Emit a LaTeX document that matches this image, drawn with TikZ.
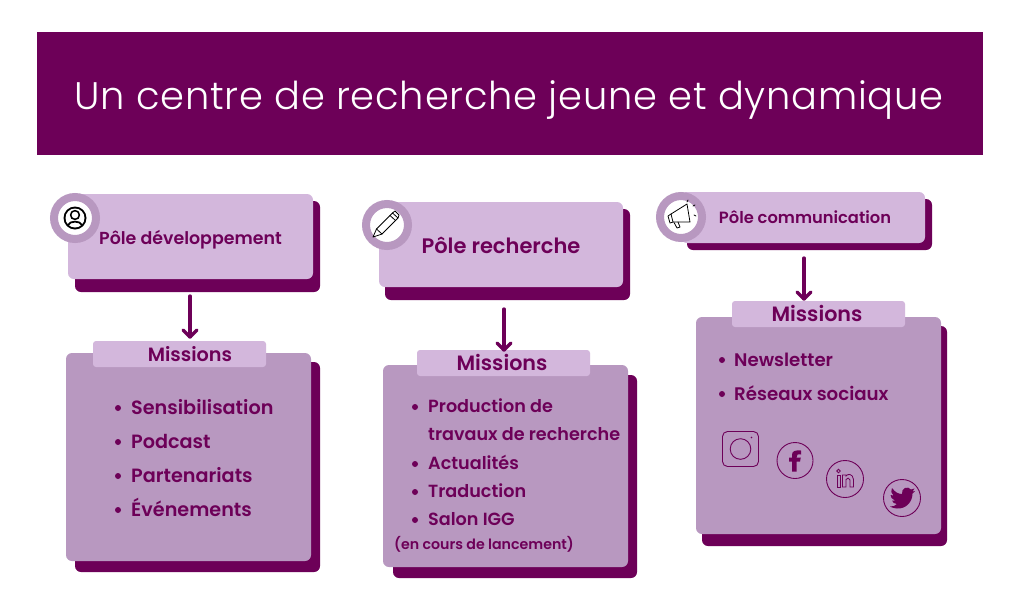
\documentclass[tikz,border=0pt]{standalone}
\usepackage{fontspec}
\setmainfont{Poppins SemiBold}
\newfontfamily\titlefont{Poppins Light}[LetterSpace=2]
\definecolor{plum}{HTML}{6D0058}
\definecolor{lilac}{HTML}{D3B7DC}
\definecolor{mauve}{HTML}{B898C0}
\tikzset{
  x=1pt,y=-1pt,
  shadowbox/.style={fill=plum,rounded corners=6pt},
  lightbox/.style={fill=lilac,rounded corners=6pt},
  midbox/.style={fill=mauve,rounded corners=6pt},
  tabbox/.style={fill=lilac,rounded corners=3pt},
  badge/.style={circle,fill=white,draw=mauve,line width=8pt,minimum size=42pt,inner sep=0pt},
  headlabel/.style={text=plum,inner sep=0pt},
  itemlabel/.style={text=plum,font=\fontsize{17.6}{22}\selectfont,anchor=base west,inner sep=0pt},
  itemone/.style={itemlabel,font=\fontsize{19.2}{22}\selectfont},
  itemthree/.style={itemlabel,font=\fontsize{18.2}{22}\selectfont},
  flow/.style={draw=plum,line width=3.3pt,line cap=round},
  flowhead/.style={draw=plum,line width=3.3pt,line cap=round,line join=round},
  icon/.style={draw=black,line width=.8pt,line cap=round,line join=round},
  social/.style={draw=plum,line width=.9pt},
}
\newcommand{\boxat}[5]{\path[#1] (#2,#3) rectangle (#4,#5);}
\newcommand{\itembullet}[2]{\fill[plum] (#1,#2) circle (3pt);}
\begin{document}
\begin{tikzpicture}
\useasboundingbox (0,0) rectangle (1020,600);
\fill[white] (0,0) rectangle (1020,600);
\node[fill=plum,minimum width=946pt,minimum height=123pt,inner sep=0pt,anchor=north west] (title) at (37,32) {};
\node[text=white,font=\titlefont\fontsize{38.4}{44}\selectfont,inner sep=0pt] (titletext) at (509,100) {Un centre de recherche jeune et dynamique};

% Column 1
\boxat{shadowbox}{75}{201}{320}{292}
\boxat{lightbox}{68}{194}{313}{279}
\node[badge] (b1) at (75,218) {};
\node[headlabel,font=\fontsize{17.4}{22}\selectfont] (h1) at (190.5,240) {Pôle développement};
\boxat{shadowbox}{75}{362}{320}{572}
\boxat{midbox}{66}{353}{311}{561}
\node[tabbox,minimum width=173pt,minimum height=26pt,inner sep=0pt] (t1) at (179.5,354) {};
\node[headlabel,font=\fontsize{19.2}{24}\selectfont] (m1) at (190,354) {Missions};
\coordinate (a1s) at (190,296);
\coordinate (a1e) at (190,337);
\draw[flow] (a1s) -- (a1e);
\draw[flowhead] ([shift={(-7,-7)}]a1e) -- (a1e) -- ([shift={(7,-7)}]a1e);
\itembullet{118}{408}\node[itemone] (i11) at (131,414) {Sensibilisation};
\itembullet{118}{442}\node[itemone] (i12) at (131,448) {Podcast};
\itembullet{118}{476}\node[itemone] (i13) at (131,482) {Partenariats};
\itembullet{118}{510}\node[itemone] (i14) at (131,516) {Événements};

% Column 2
\boxat{shadowbox}{385}{209}{630}{300}
\boxat{lightbox}{379}{202}{623}{287}
\node[badge] (b2) at (387,225) {};
\node[headlabel,font=\fontsize{21}{26}\selectfont] (h2) at (501,245) {Pôle recherche};
\boxat{shadowbox}{393}{375}{637}{578}
\boxat{midbox}{383}{365}{628}{567}
\node[tabbox,minimum width=173pt,minimum height=26pt,inner sep=0pt] (t2) at (503.5,363) {};
\node[headlabel,font=\fontsize{20.7}{24}\selectfont] (m2) at (502,362) {Missions};
\coordinate (a2s) at (504,309);
\coordinate (a2e) at (504,350);
\draw[flow] (a2s) -- (a2e);
\draw[flowhead] ([shift={(-7,-7)}]a2e) -- (a2e) -- ([shift={(7,-7)}]a2e);
\itembullet{415}{407}\node[itemlabel] (i21) at (428,412.5) {Production de};
\node[itemlabel] (i22) at (428,440.5) {travaux de recherche};
\itembullet{415}{464}\node[itemlabel] (i23) at (428,469.5) {Actualités};
\itembullet{415}{492}\node[itemlabel] (i24) at (428,497.5) {Traduction};
\itembullet{415}{520}\node[itemlabel] (i25) at (428,525.5) {Salon IGG};
\node[text=plum,font=\fontsize{14.2}{17}\selectfont,inner sep=0pt] (i26) at (484,544) {(en cours de lancement)};

% Column 3
\boxat{shadowbox}{687}{199}{932}{250}
\boxat{lightbox}{681}{192}{925}{243}
\node[badge] (b3) at (681,217) {};
\node[headlabel,font=\fontsize{16.3}{21}\selectfont] (h3) at (805,217) {Pôle communication};
\boxat{shadowbox}{702}{326}{947}{546}
\boxat{midbox}{696}{317}{941}{534}
\node[tabbox,minimum width=173pt,minimum height=26pt,inner sep=0pt] (t3) at (818.5,314) {};
\node[headlabel,font=\fontsize{20.7}{24}\selectfont] (m3) at (817,313.5) {Missions};
\coordinate (a3s) at (804,258);
\coordinate (a3e) at (804,299);
\draw[flow] (a3s) -- (a3e);
\draw[flowhead] ([shift={(-7,-7)}]a3e) -- (a3e) -- ([shift={(7,-7)}]a3e);
\itembullet{722}{360}\node[itemthree] (i31) at (734,366) {Newsletter};
\itembullet{722}{394}\node[itemthree] (i32) at (734,400) {Réseaux sociaux};

% Badge icons
\begin{scope}[shift={(75,218)}]
  \fill[black] (0,0) circle (11.5pt);
  \fill[white] (0,0) circle (9.5pt);
  \fill[black] (0,-3) circle (5.2pt);
  \fill[white] (0,-3) circle (3.4pt);
  \draw[line width=1.8pt] (-7,7) .. controls (-5,2.5) and (5,2.5) .. (7,7);
\end{scope}
\begin{scope}[shift={(387,225)}]
  \draw[icon] (-14,12) -- (-10.5,4) -- (5.5,-12) -- (11,-7) -- (-5,9) -- cycle;
  \draw[icon] (-10.5,4) -- (-5,9);
  \draw[icon] (3,-9.5) -- (8.5,-4.5);
  \draw[icon] (5.5,-12) -- (8,-14) -- (12,-10) -- (11,-7);
\end{scope}
\begin{scope}[shift={(681,217)}]
  \draw[icon] (-10,-3) -- (6,-13) -- (9,5) -- (-8,5) -- cycle;
  \draw[icon] (-10,-3) -- (-13,-1) -- (-11,6) -- (-8,5);
  \draw[icon] (-7,5.5) -- (-4,11) -- (-1,10) -- (-3,5);
  \draw[icon] (7,-17) -- (6,-15);
  \draw[icon] (12,-11) -- (14,-12);
  \draw[icon] (13,-2) -- (15,-1);
\end{scope}

% Social icons
\draw[social,rounded corners=5pt] (722.5,431.5) rectangle (758.5,466.5);
\draw[social] (740.5,449) circle (10.3pt);
\fill[plum] (751.5,437.5) circle (.8pt);
\draw[social] (795,460.5) circle (18pt);
\fill[plum] (792,471.5) -- (792,461.5) -- (789,461.5) -- (789,457.5) -- (792,457.5) -- (792,455)
  .. controls (792,451) and (795,450) .. (801,450.5) -- (801,454.5)
  .. controls (797.5,454) and (796.5,454.5) .. (796.5,457.5) -- (800.8,457.5) -- (800,461.5) -- (796.5,461.5) -- (796.5,471.5) -- cycle;
\draw[social] (845,479) circle (18.5pt);
\draw[plum,line width=.8pt] (837,475) rectangle (840,487);
\draw[plum,line width=.8pt] (838.5,471) circle (1.8pt);
\draw[plum,line width=.8pt] (842.5,475) -- (842.5,487) -- (846,487) -- (846,479.5) .. controls (847,477.5) and (849.5,477.5) .. (850,480) -- (850,487) -- (853.5,487) -- (853.5,479.5) .. controls (853,473.5) and (847.5,473.5) .. (846,476) -- (846,475) -- cycle;
\draw[social] (902,498) circle (18.5pt);
\fill[plum] (892,488) .. controls (895,492) and (898,494) .. (902,494)
  .. controls (901,488) and (908,485.5) .. (911,489.5) -- (914.5,488.5) -- (912.5,491.5) -- (915,491)
  -- (912.5,493.5) .. controls (912.5,502) and (906,509) .. (897,508.5)
  .. controls (894,508.5) and (892,507.5) .. (890,506.5) .. controls (893,506.5) and (895,506) .. (897,504)
  .. controls (894,504) and (893,502.5) .. (892,500.5) -- (895,500.5)
  .. controls (892,499.5) and (890.5,497) .. (890.5,495) -- (893.5,495.5)
  .. controls (891,493.5) and (890.5,490.5) .. (892,488) -- cycle;
\end{tikzpicture}
\end{document}
